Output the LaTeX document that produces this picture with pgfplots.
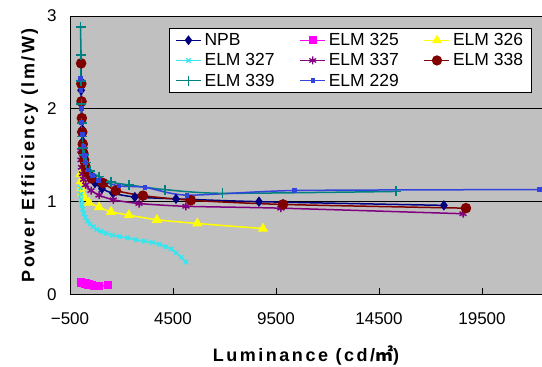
\documentclass[border=0pt]{standalone}
\usepackage{pgfplots}
\pgfplotsset{compat=1.18}
\usepackage{fontspec}
\setmainfont{Liberation Sans}
\newfontfamily\krfont{Noto Sans CJK KR}
\newfontfamily\labfont[LetterSpace=14]{Liberation Sans}
\definecolor{npb}{HTML}{000080}
\definecolor{e325}{HTML}{FF00FF}
\definecolor{e326}{HTML}{FFFF00}
\definecolor{e327}{HTML}{33E6F0}
\definecolor{e337}{HTML}{800080}
\definecolor{e338}{HTML}{800000}
\definecolor{e339}{HTML}{008080}
\definecolor{e229}{HTML}{3344DD}
\definecolor{bg}{HTML}{C0C0C0}
\begin{document}
\begin{tikzpicture}
\begin{axis}[
  scale only axis,
  width=472pt, height=278.5pt,
  xmin=-500, xmax=22413,
  ymin=0, ymax=3,
  scaled x ticks=false,
  axis x line*=bottom, axis y line*=left,
  axis line style={-, black, line width=0.8pt},
  axis background/.style={fill=bg},
  xtick={-500,4500,9500,14500,19500},
  xticklabels={−500,4500,9500,14500,19500},
  ytick={0,1,2,3},
  yticklabels={0,1,2,3},
  ymajorgrids,
  grid style={black, line width=0.8pt},
  x tick style={black, line width=0.8pt},
  y tick style={draw=none},
  tick align=inside,
  major tick length=6pt,
  ticklabel style={font=\fontsize{17}{17}\selectfont},
  x tick label style={yshift=-15pt},
  y tick label style={xshift=-10pt},
  xlabel={\labfont\bfseries\fontsize{18}{18}\selectfont Luminance (cd/{\krfont\bfseries ㎡})},
  ylabel={\labfont\bfseries\fontsize{18}{18}\selectfont Power Efficiency (lm/W)},
  xlabel style={yshift=-14pt},
  ylabel style={yshift=2pt},
  legend columns=3,
  legend style={at={(0.2097,0.957)}, anchor=north west, draw=black, line width=0.8pt, fill=white,
    font=\fontsize{17.5}{17.5}\selectfont, inner xsep=6pt, inner ysep=3pt,
    /tikz/row sep=2.5pt,
    /tikz/every odd column/.append style={column sep=1pt},
    /tikz/every even column/.append style={column sep=23pt}},
  legend cell align=left,
  legend image code/.code={\draw[mark repeat=2,mark phase=2,line width=1.2pt] plot coordinates {(0pt,0pt) (12.5pt,0pt) (25pt,0pt)};},
  every axis plot/.append style={line width=1.5pt, smooth, tension=0.4},
]
\addplot[color=npb, mark=diamond*, mark size=4pt] table {
30 2.3
40 2.2
55 2.05
70 1.9
90 1.78
120 1.65
160 1.55
210 1.46
280 1.38
380 1.31
520 1.25
713 1.2
1050 1.14
1590 1.09
2650 1.05
4645 1.03
8674 1.0
17650 0.96
};
\addlegendentry{NPB}
\addplot[color=e325, mark=square*, mark size=3.5pt] table {
30 0.13
120 0.125
250 0.12
400 0.11
550 0.1
700 0.09
900 0.09
1350 0.1
};
\addlegendentry{ELM 325}
\addplot[color=e326, mark=triangle*, mark size=4.5pt] table {
15 1.3
30 1.22
50 1.15
90 1.09
180 1.04
420 0.99
910 0.94
1490 0.89
2360 0.855
3720 0.805
5680 0.765
8870 0.71
};
\addlegendentry{ELM 326}
\addplot[color=e327, mark=x, mark size=3pt] table {
5 1.15
20 1.08
40 1.02
70 0.97
110 0.92
170 0.87
250 0.83
350 0.79
470 0.76
620 0.73
800 0.7
1000 0.68
1250 0.66
1550 0.64
1900 0.625
2300 0.61
2700 0.59
3100 0.575
3500 0.56
3850 0.54
4150 0.515
4400 0.49
4650 0.45
4900 0.4
5130 0.35
};
\addlegendentry{ELM 327}
\addplot[color=e337, mark=asterisk, mark size=4pt] table {
20 1.55
35 1.45
60 1.37
100 1.3
160 1.24
260 1.18
520 1.12
910 1.07
1600 1.02
2850 0.98
5130 0.95
9740 0.93
18580 0.87
};
\addlegendentry{ELM 337}
\addplot[color=e338, mark=*, mark size=4.5pt] table {
40 2.49
50 2.27
60 2.08
75 1.9
95 1.75
120 1.62
150 1.52
190 1.45
250 1.38
350 1.31
550 1.25
1100 1.2
1730 1.12
3040 1.065
5370 1.015
9840 0.97
18720 0.93
};
\addlegendentry{ELM 338}
\addplot[color=e339, mark=+, mark size=5pt] table {
20 2.88
25 2.58
35 2.3
50 2.05
70 1.85
100 1.7
140 1.58
190 1.5
280 1.42
480 1.33
910 1.27
1500 1.21
2360 1.18
4100 1.13
6900 1.09
15320 1.11
};
\addlegendentry{ELM 339}
\addplot[color=e229, mark=square*, mark size=1.6pt] table {
25 2.33
35 2.2
50 2.0
70 1.85
100 1.72
140 1.6
190 1.5
260 1.42
380 1.34
600 1.28
900 1.23
1880 1.17
3140 1.155
5180 1.07
10400 1.12
22300 1.13
};
\addlegendentry{ELM 229}
\end{axis}
\pgfresetboundingbox
\path[use as bounding box] (current axis.south west) ++(-70pt,-72.5pt) rectangle ++(542pt,367pt);
\end{tikzpicture}
\end{document}
